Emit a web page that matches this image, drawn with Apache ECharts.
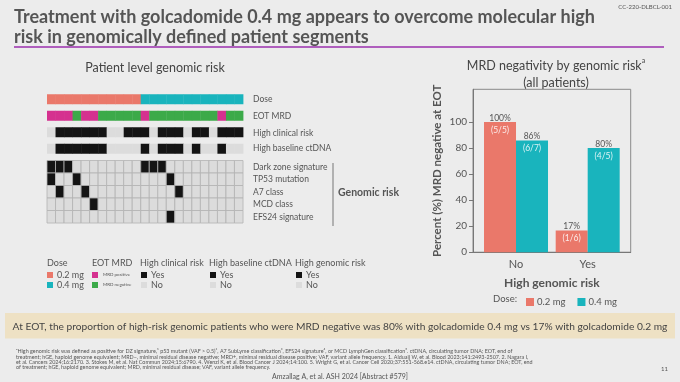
<!DOCTYPE html>
<html><head><meta charset="utf-8">
<script src="https://cdn.jsdelivr.net/npm/echarts@6/dist/echarts.min.js"></script>
<style>html,body{margin:0;padding:0;background:#ececec}#c{width:680px;height:382px}</style>
</head><body><div id="c"></div>
<script>
// ---------- data ----------
const patients = ['P1','P2','P3','P4','P5','P6','P7','P8','P9','P10','P11','P12','P13','P14','P15','P16','P17','P18','P19','P20','P21','P22','P23'];
const doseMg            = [0.2,0.2,0.2,0.2,0.2,0.2,0.2,0.2,0.2,0.2,0.2,0.4,0.4,0.4,0.4,0.4,0.4,0.4,0.4,0.4,0.4,0.4,0.4];
const eotMRDPositive    = [1,1,1,0,1,1,0,0,0,0,0,1,0,0,0,0,0,0,0,0,1,0,0];
const highClinicalRisk  = [0,1,1,1,1,1,1,0,0,1,1,1,0,1,1,1,0,1,1,0,1,1,1];
const highBaselineCtDNA = [0,1,1,1,1,1,1,0,0,0,0,1,0,1,1,1,0,1,0,0,1,0,0];
const rowLabelsTop = ['Dose','EOT MRD','High clinical risk','High baseline ctDNA'];
const genomicRows  = ['Dark zone signature','TP53 mutation','A7 class','MCD class','EFS24 signature'];
const darkZone = [1,1,1,0,0,0,0,0,0,0,0,1,1,1,0,0,0,0,0,0,0,0,0];
const tp53     = [1,0,0,1,0,0,0,0,0,0,0,0,0,0,1,0,0,0,0,0,0,0,0];
const a7Class  = [0,1,0,0,1,0,0,0,0,0,0,0,0,0,0,1,0,0,0,0,0,0,0];
const mcdClass = [0,0,0,0,0,1,0,0,0,0,0,0,0,0,0,0,0,0,0,0,0,0,0];
const efs24    = [0,0,0,0,0,0,0,0,0,0,0,0,0,0,1,0,0,0,0,0,0,0,0];

const riskGroups = ['No','Yes'];
const doseNames  = ['0.2 mg','0.4 mg'];
const mrdNeg02   = [100, 16.7];
const mrdNeg04   = [85.7, 80];
const frac02     = ['(5/5)','(1/6)'];
const frac04     = ['(6/7)','(4/5)'];
const yTicks     = [0,20,40,60,80,100];

// ---------- styles ----------
const SALMON='#ea786a', TEAL='#19b4bd', MAGENTA='#d5318f', GREEN='#3caa49', BLACK='#141414', NOGRAY='#dcdcdc';
const FONT='Lato, "Noto Sans", sans-serif';
const TXT='#555';

const dataTop = [];
patients.forEach((p,i)=>{
  dataTop.push({value:[i,0], itemStyle:{color: doseMg[i]===0.2?SALMON:TEAL}});
  dataTop.push({value:[i,1], itemStyle:{color: eotMRDPositive[i]?MAGENTA:GREEN}});
  dataTop.push({value:[i,2], itemStyle:{color: highClinicalRisk[i]?BLACK:NOGRAY}});
  dataTop.push({value:[i,3], itemStyle:{color: highBaselineCtDNA[i]?BLACK:NOGRAY}});
});
const genomicData = [darkZone,tp53,a7Class,mcdClass,efs24];
const dataGen = [];
genomicData.forEach((row,r)=>row.forEach((v,i)=>{
  dataGen.push({value:[i,r], itemStyle:{color: v?BLACK:NOGRAY}});
}));

function renderTop(params, api){
  const p = api.coord([api.value(0), api.value(1)]);
  const w = api.size([1,0])[0];
  const h = 10;
  return {type:'rect', shape:{x:p[0]-w/2, y:p[1]-h/2, width:w+0.4, height:h}, style:{fill:api.visual('color')}};
}
function renderGen(params, api){
  const p = api.coord([api.value(0), api.value(1)]);
  const s = api.size([1,1]);
  return {type:'rect', shape:{x:p[0]-s[0]/2, y:p[1]-s[1]/2, width:s[0], height:s[1]},
          style:{fill:api.visual('color'), stroke:'#b3b3b3', lineWidth:0.8}};
}

function txt(text, x, y, size, opts){
  opts = opts||{};
  return {type:'text', x:x, y:y, silent:true, style:{text:text, fill:opts.fill||TXT,
    font:(opts.weight||'normal')+' '+size+'px '+FONT,
    align:opts.align||'left', textAlign:opts.align||'left',
    verticalAlign:'middle', textVerticalAlign:'middle'}};
}

const graphics = [
  txt('CC-220-DLBCL-001', 672, 7, 6, {align:'right'}),
  txt('Treatment with golcadomide 0.4 mg appears to overcome molecular high', 14, 17, 18, {weight:'bold'}),
  txt('risk in genomically defined patient segments', 14, 37, 18, {weight:'bold'}),
  {type:'line', shape:{x1:14,y1:47,x2:664,y2:47}, style:{stroke:'#9b2fae', lineWidth:1.5}},
  txt('Patient level genomic risk', 155, 68, 12.5, {align:'center', fill:'#444'}),
];
const topY=[99.2,116.2,133,148.5];
rowLabelsTop.forEach((l,i)=>graphics.push(txt(l, 253, topY[i], 8.5)));
genomicRows.forEach((l,i)=>graphics.push(txt(l, 253, 166.8+12.5*i, 8.5)));
graphics.push({type:'line', shape:{x1:333,y1:163,x2:333,y2:226}, style:{stroke:'#777', lineWidth:1}});
graphics.push(txt('Genomic risk', 338, 193, 10.5, {weight:'bold'}));

// left legend
const legY1=275, legY2=285;
graphics.push(txt('Dose', 47, 263, 9));
graphics.push({type:'rect', shape:{x:47,y:legY1-3,width:6,height:6}, style:{fill:SALMON}});
graphics.push(txt('0.2 mg', 57, legY1, 9));
graphics.push({type:'rect', shape:{x:47,y:legY2-3,width:6,height:6}, style:{fill:TEAL}});
graphics.push(txt('0.4 mg', 57, legY2, 9));
graphics.push(txt('EOT MRD', 92, 263, 9));
graphics.push({type:'rect', shape:{x:92,y:legY1-3,width:6,height:6}, style:{fill:MAGENTA}});
graphics.push(txt('MRD positive', 103, legY1, 4.5));
graphics.push({type:'rect', shape:{x:92,y:legY2-3,width:6,height:6}, style:{fill:GREEN}});
graphics.push(txt('MRD negative', 103, legY2, 4.5));
[['High clinical risk',140],['High baseline ctDNA',209],['High genomic risk',295]].forEach(([t,x])=>{
  graphics.push(txt(t, x, 263, 9));
  graphics.push({type:'rect', shape:{x:x+1,y:legY1-3,width:6,height:6}, style:{fill:BLACK}});
  graphics.push(txt('Yes', x+11, legY1, 9));
  graphics.push({type:'rect', shape:{x:x+1,y:legY2-3,width:6,height:6}, style:{fill:NOGRAY}});
  graphics.push(txt('No', x+11, legY2, 9));
});
graphics.push(txt('Dose:', 493, 299, 9.5));

// banner
graphics.push({type:'rect', shape:{x:5,y:313,width:670,height:25.5}, style:{fill:'#eee1c4'}});
graphics.push(txt('At EOT, the proportion of high-risk genomic patients who were MRD negative was 80% with golcadomide 0.4 mg vs 17% with golcadomide 0.2 mg', 340, 326.5, 10.2, {align:'center', fill:'#444'}));

// footnotes
const foot = [
 'ᵃHigh genomic risk was defined as positive for DZ signature,¹ p53 mutant (VAF > 0.5)², A7 SubLyme classification³, EFS24 signature⁴, or MCD LymphGen classification⁵. ctDNA, circulating tumor DNA; EOT, end of',
 'treatment; hGE, haploid genome equivalent; MRD−, minimal residual disease negative; MRD+, minimal residual disease positive; VAF, variant allele frequency. 1. Alduaij W, et al. Blood 2023;141:2493-2507. 2. Nagara I,',
 'et al. Cancers 2024;16:2170. 3. Stokes M, et al. Nat Commun 2024;15:6790. 4. Wenzl K, et al. Blood Cancer J 2024;14:100. 5. Wright G, et al. Cancer Cell 2020;37:551-568.e14. ctDNA, circulating tumor DNA; EOT, end',
 'of treatment; hGE, haploid genome equivalent; MRD, minimal residual disease; VAF, variant allele frequency.'
];
foot.forEach((f,i)=>graphics.push(txt(f, 16, 351.7+5.3*i, 5.4)));
graphics.push(txt('11', 668, 369, 6, {align:'right'}));
graphics.push(txt('Amzallag A, et al. ASH 2024 [Abstract #579]', 340, 376.7, 7, {align:'center'}));

function barLabel(fracs){
  return {show:true, position:'top', distance:0, offset:[0,14],
    formatter: p => '{a|'+Math.round(p.value[1])+'%}\n{b|'+fracs[p.dataIndex]+'}',
    rich:{a:{fontSize:8.5,color:TXT,lineHeight:12,fontFamily:FONT}, b:{fontSize:8.5,color:'rgba(255,255,255,0.85)',lineHeight:12,fontFamily:FONT}}};
}

const option = {
  backgroundColor:'#ececec',
  animation:false,
  textStyle:{fontFamily:FONT},
  title:{text:'{m|MRD negativity by genomic risk}{s|a}\n{m|(all patients)}', left:551, top:52, textAlign:'center',
    textStyle:{fontWeight:'normal', rich:{m:{fontSize:12.5,color:'#444',lineHeight:17,fontFamily:FONT,fontWeight:'normal'}, s:{fontSize:7,color:'#444',verticalAlign:'top',lineHeight:17,fontFamily:FONT,fontWeight:'normal'}}}},
  legend:{data:doseNames, left:521, top:292, itemWidth:8, itemHeight:8, itemGap:12, icon:'rect',
    textStyle:{fontSize:9.5, color:TXT, fontFamily:FONT, padding:[0,0,0,-2]}},
  grid:[
    {left:47, width:196, top:91, height:66},
    {left:47, width:196, top:160.5, height:62.5},
    {left:473, right:49.3, top:89.3, bottom:129.8, show:true, borderColor:'#8a8a8a', borderWidth:1, backgroundColor:'transparent'}
  ],
  xAxis:[
    {type:'category', gridIndex:0, data:patients, show:false},
    {type:'category', gridIndex:1, data:patients, show:false},
    {type:'value', gridIndex:2, min:0.4, max:2.6,
     axisLine:{show:true, lineStyle:{color:'#777'}}, axisTick:{show:false}, splitLine:{show:false},
     axisLabel:{customValues:[1,2], formatter:v=>riskGroups[Math.round(v)-1]||'', fontSize:11, color:TXT, margin:7},
     name:'High genomic risk', nameLocation:'middle', nameGap:25,
     nameTextStyle:{fontSize:12, fontWeight:'bold', color:TXT}}
  ],
  yAxis:[
    {type:'category', gridIndex:0, data:rowLabelsTop, inverse:true, show:false},
    {type:'category', gridIndex:1, data:genomicRows, inverse:true, show:false},
    {type:'value', gridIndex:2, min:0, max:125,
     axisLine:{show:true, lineStyle:{color:'#777'}},
     axisTick:{show:true, customValues:yTicks, length:4, lineStyle:{color:'#777'}},
     splitLine:{show:false},
     axisLabel:{customValues:yTicks, fontSize:10, color:TXT, margin:6},
     name:'Percent (%) MRD negative at EOT', nameLocation:'middle', nameGap:30,
     nameTextStyle:{fontSize:11.5, fontWeight:'bold', color:TXT}}
  ],
  series:[
    {type:'custom', xAxisIndex:0, yAxisIndex:0, renderItem:renderTop, data:dataTop, silent:true},
    {type:'custom', xAxisIndex:1, yAxisIndex:1, renderItem:renderGen, data:dataGen, silent:true},
    {type:'bar', name:'0.2 mg', xAxisIndex:2, yAxisIndex:2, barWidth:32, barGap:'0%',
     itemStyle:{color:SALMON}, data:mrdNeg02.map((v,i)=>[i+1,v]), label:barLabel(frac02)},
    {type:'bar', name:'0.4 mg', xAxisIndex:2, yAxisIndex:2, barWidth:32, barGap:'0%',
     itemStyle:{color:TEAL}, data:mrdNeg04.map((v,i)=>[i+1,v]), label:barLabel(frac04)}
  ],
  graphic:{elements:graphics}
};
const chart = echarts.init(document.getElementById('c'), null, {renderer:'canvas'});
chart.setOption(option);
</script></body></html>
